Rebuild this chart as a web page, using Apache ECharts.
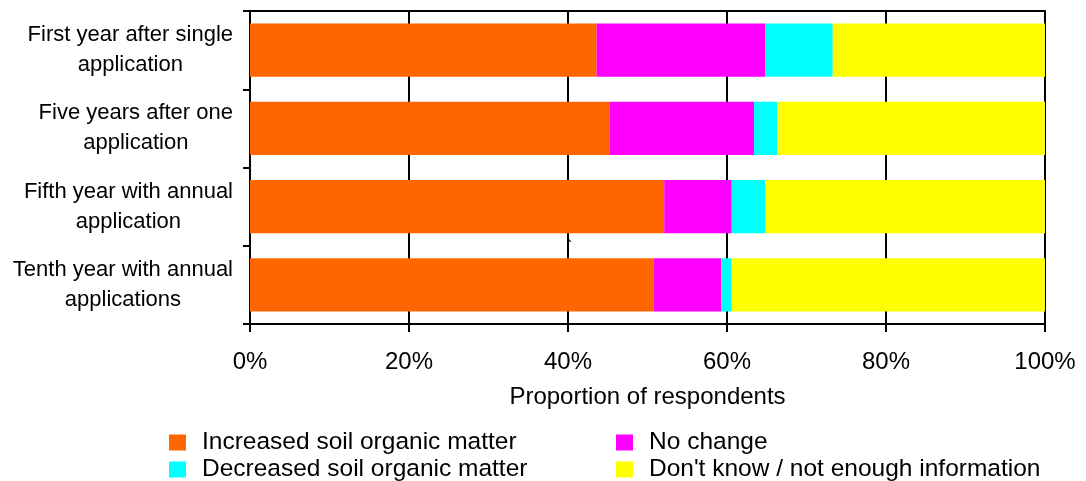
<!DOCTYPE html>
<html>
<head>
<meta charset="utf-8">
<script src="https://cdn.jsdelivr.net/npm/echarts@6/dist/echarts.min.js"></script>
<style>
html,body{margin:0;padding:0;background:#fff;}
#chart{width:1086px;height:481px;}
</style>
</head>
<body>
<div id="chart"></div>
<script>
const categories = [
  'First year after single\napplication',
  'Five years after one\napplication',
  'Fifth year with annual\napplication',
  'Tenth year with annual\napplications'
];
const increased = [43.6, 45.2, 52.1, 50.8];
const noChange = [21.2, 18.2, 8.5, 8.5];
const decreased = [8.5, 2.9, 4.2, 1.3];
const dontKnow = [26.7, 33.7, 35.2, 39.4];
const xTicks = [0, 20, 40, 60, 80, 100];
const seriesNames = ['Increased soil organic matter', 'No change', 'Decreased soil organic matter', "Don't know / not enough information"];

const FONT = "'Liberation Sans', Arial, Helvetica, sans-serif";
const chart = echarts.init(document.getElementById('chart'), null, {renderer: 'canvas'});

function bar(name, data, color) {
  return {
    name: name, type: 'bar', stack: 'total', data: data,
    barCategoryGap: '32%',
    itemStyle: {color: color},
    emphasis: {disabled: true},
    animation: false
  };
}

function legendItem(name, left, top) {
  return {
    left: left, top: top, padding: 0, itemWidth: 17, itemHeight: 16,
    icon: 'rect', selectedMode: false, data: [name],
    textStyle: {fontSize: 24.5, color: '#000', fontFamily: FONT, padding: [0, 0, 0, 11]}
  };
}

chart.setOption({
  animation: false,
  textStyle: {fontFamily: FONT, color: '#000'},
  grid: {left: 250, right: 41, top: 11, bottom: 157, show: true, borderColor: '#000', borderWidth: 2, backgroundColor: 'transparent'},
  xAxis: {
    type: 'value', min: xTicks[0], max: xTicks[xTicks.length - 1], interval: 20,
    axisLine: {show: true, lineStyle: {color: '#000', width: 2}},
    axisTick: {show: true, length: 8, lineStyle: {color: '#000', width: 2}},
    axisLabel: {formatter: '{value}%', fontSize: 24, color: '#000', margin: 26, fontFamily: FONT},
    splitLine: {show: true, lineStyle: {color: '#000', width: 2}},
    name: 'Proportion of respondents', nameLocation: 'middle', nameGap: 61,
    nameTextStyle: {fontSize: 24, color: '#000', fontFamily: FONT}
  },
  yAxis: {
    type: 'category', data: categories, inverse: true,
    axisLine: {show: true, lineStyle: {color: '#000', width: 2}},
    axisTick: {show: true, length: 7, lineStyle: {color: '#000', width: 2}},
    axisLabel: {
      margin: 17, color: '#000', fontFamily: FONT, fontSize: 22, lineHeight: 30,
      formatter: function (v) { return v.split('\n').map(function (l) { return '{a|' + l + '}'; }).join('\n'); },
      rich: {a: {align: 'center', fontSize: 22, lineHeight: 30, color: '#000', fontFamily: FONT}}
    },
    splitLine: {show: false}
  },
  legend: [
    legendItem(seriesNames[0], 169, 430),
    legendItem(seriesNames[2], 169, 457),
    legendItem(seriesNames[1], 616, 430),
    legendItem(seriesNames[3], 616, 457)
  ],
  graphic: [
    {type: 'text', left: 566, top: 238, z: 100, silent: true, style: {text: '`', fontSize: 20, fill: '#000', fontFamily: FONT}}
  ],
  series: [
    bar(seriesNames[0], increased, '#FF6600'),
    bar(seriesNames[1], noChange, '#FF00FF'),
    bar(seriesNames[2], decreased, '#00FFFF'),
    bar(seriesNames[3], dontKnow, '#FFFF00')
  ]
});
</script>
</body>
</html>
